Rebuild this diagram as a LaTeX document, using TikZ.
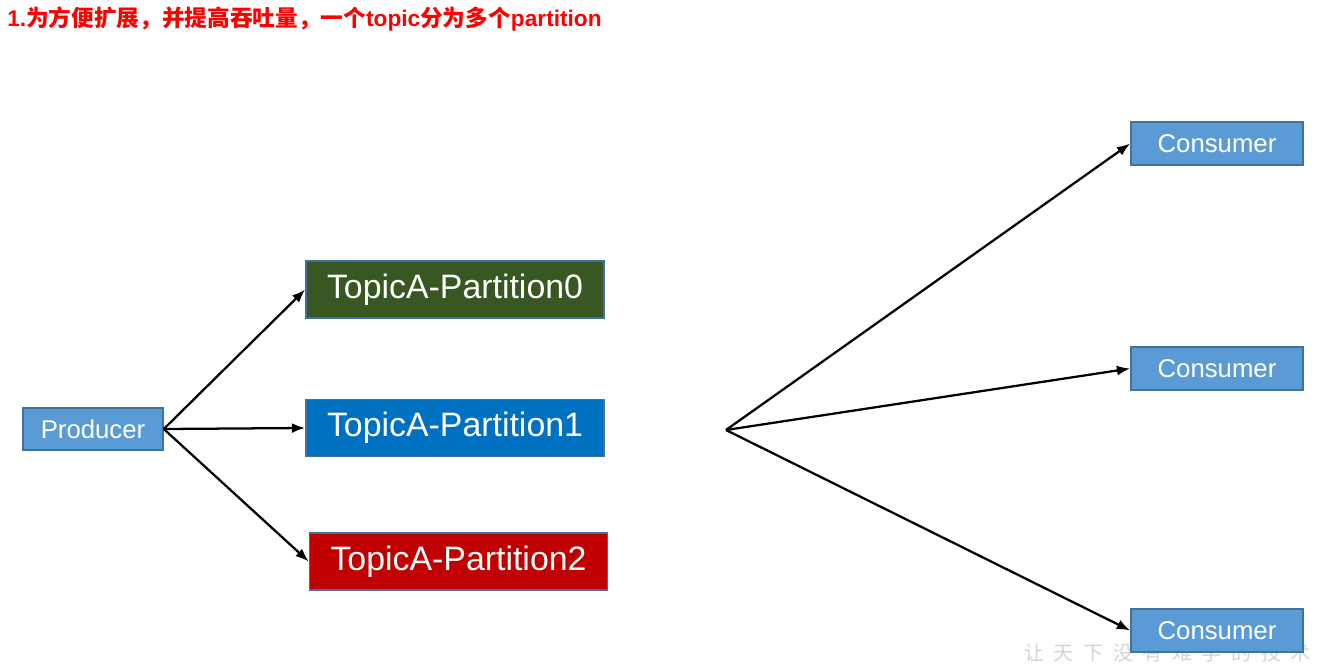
\documentclass[tikz,border=0pt]{standalone}
\usepackage{fontspec}
\setmainfont{Liberation Sans}
\newfontfamily\cjk{Noto Sans CJK SC}
\usetikzlibrary{arrows.meta}
\definecolor{boxblue}{HTML}{5B9BD5}
\definecolor{edgeblue}{HTML}{41719C}
\definecolor{pgreen}{HTML}{385723}
\definecolor{pblue}{HTML}{0070C0}
\definecolor{pred}{HTML}{C00000}
\definecolor{wmgray}{HTML}{D4D4D4}
\newcommand{\wg}{\hspace{7.2pt}}
\begin{document}
\begin{tikzpicture}[x=0.75pt,y=-0.75pt,
  smallbox/.style={draw=edgeblue, line width=1.2pt, fill=boxblue, text=white, inner sep=0pt,
    font=\fontsize{19.3}{22}\selectfont},
  partbox/.style={draw=edgeblue, line width=1.2pt, text=white, inner sep=0pt,
    minimum width=223.5pt, minimum height=43pt, font=\fontsize{25.4}{28}\selectfont},
  flow/.style={line width=1.7pt, -{Latex[length=10pt,width=7.5pt]}}]
\useasboundingbox (0,0) rectangle (1324,664);
\clip (0,0) rectangle (1324,664);
\fill[white] (0,0) rectangle (1324,664);
\node[anchor=north west, inner sep=0pt, text=wmgray, font=\cjk\fontsize{15}{17}\selectfont] (wm) at (1024,643)
  {让\wg 天\wg 下\wg 没\wg 有\wg 难\wg 学\wg 的\wg 技\wg 术};
\node[anchor=west, text=red, inner sep=0pt, font=\fontsize{17}{20}\selectfont\bfseries] (title) at (7,19)
  {1.{\cjk\bfseries 为方便扩展，并提高吞吐量，一个}topic{\cjk\bfseries 分为多个}partition};
\node[smallbox, minimum width=105pt, minimum height=31.5pt] (prod) at (93,429) {Producer};
\node[partbox, fill=pgreen] (p0) at (455,289.5) {TopicA-Partition0};
\node[partbox, fill=pblue] (p1) at (455,428) {TopicA-Partition1};
\node[partbox, fill=pred] (p2) at (458.5,561.5) {TopicA-Partition2};
\node[smallbox, minimum width=129pt, minimum height=32.25pt] (c0) at (1217,143.5) {Consumer};
\node[smallbox, minimum width=129pt, minimum height=32.25pt] (c1) at (1217,368.5) {Consumer};
\node[smallbox, minimum width=129pt, minimum height=32.25pt] (c2) at (1217,630.5) {Consumer};
\coordinate (hub) at (726,430);
\draw[flow] (prod.east) -- (p0.west);
\draw[flow] (prod.east) -- (p1.west);
\draw[flow] (prod.east) -- (p2.west);
\draw[flow] (hub) -- (c0.west);
\draw[flow] (hub) -- (c1.west);
\draw[flow] (hub) -- (c2.west);
\end{tikzpicture}
\end{document}
